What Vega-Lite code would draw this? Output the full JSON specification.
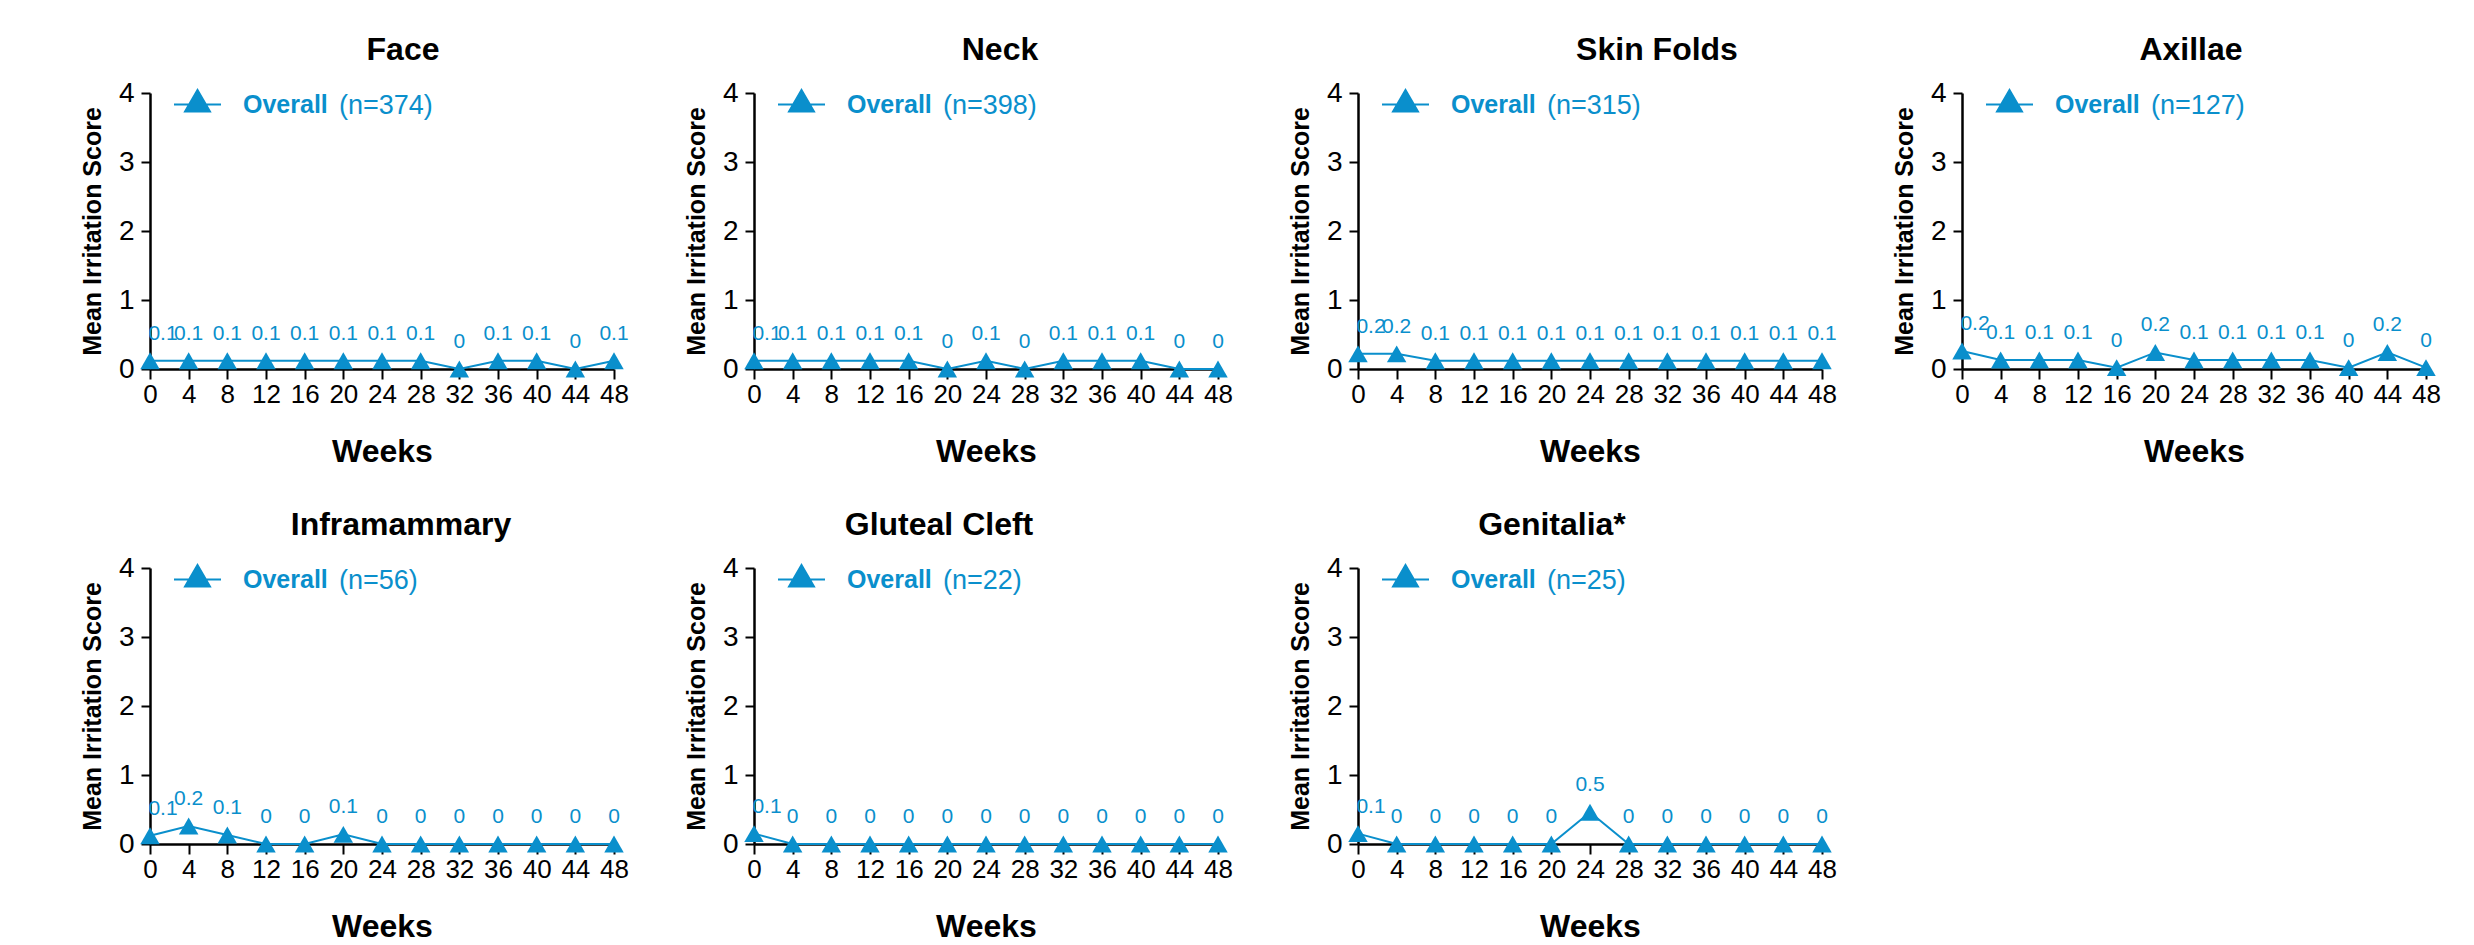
{
  "$schema": "https://vega.github.io/schema/vega-lite/v6.json",
  "background": "white",
  "padding": {"left": 80, "top": 34, "right": 10, "bottom": 0},
  "datasets": {
    "scores": [
      {"region":"Face","group":"Overall","week":0,"score":0.12,"label":"0.1"},
      {"region":"Face","group":"Overall","week":4,"score":0.12,"label":"0.1"},
      {"region":"Face","group":"Overall","week":8,"score":0.12,"label":"0.1"},
      {"region":"Face","group":"Overall","week":12,"score":0.12,"label":"0.1"},
      {"region":"Face","group":"Overall","week":16,"score":0.12,"label":"0.1"},
      {"region":"Face","group":"Overall","week":20,"score":0.12,"label":"0.1"},
      {"region":"Face","group":"Overall","week":24,"score":0.12,"label":"0.1"},
      {"region":"Face","group":"Overall","week":28,"score":0.12,"label":"0.1"},
      {"region":"Face","group":"Overall","week":32,"score":0.0,"label":"0"},
      {"region":"Face","group":"Overall","week":36,"score":0.12,"label":"0.1"},
      {"region":"Face","group":"Overall","week":40,"score":0.12,"label":"0.1"},
      {"region":"Face","group":"Overall","week":44,"score":0.0,"label":"0"},
      {"region":"Face","group":"Overall","week":48,"score":0.12,"label":"0.1"},

      {"region":"Neck","group":"Overall","week":0,"score":0.12,"label":"0.1"},
      {"region":"Neck","group":"Overall","week":4,"score":0.12,"label":"0.1"},
      {"region":"Neck","group":"Overall","week":8,"score":0.12,"label":"0.1"},
      {"region":"Neck","group":"Overall","week":12,"score":0.12,"label":"0.1"},
      {"region":"Neck","group":"Overall","week":16,"score":0.12,"label":"0.1"},
      {"region":"Neck","group":"Overall","week":20,"score":0.0,"label":"0"},
      {"region":"Neck","group":"Overall","week":24,"score":0.12,"label":"0.1"},
      {"region":"Neck","group":"Overall","week":28,"score":0.0,"label":"0"},
      {"region":"Neck","group":"Overall","week":32,"score":0.12,"label":"0.1"},
      {"region":"Neck","group":"Overall","week":36,"score":0.12,"label":"0.1"},
      {"region":"Neck","group":"Overall","week":40,"score":0.12,"label":"0.1"},
      {"region":"Neck","group":"Overall","week":44,"score":0.0,"label":"0"},
      {"region":"Neck","group":"Overall","week":48,"score":0.0,"label":"0"},

      {"region":"Skin Folds","group":"Overall","week":0,"score":0.22,"label":"0.2"},
      {"region":"Skin Folds","group":"Overall","week":4,"score":0.22,"label":"0.2"},
      {"region":"Skin Folds","group":"Overall","week":8,"score":0.12,"label":"0.1"},
      {"region":"Skin Folds","group":"Overall","week":12,"score":0.12,"label":"0.1"},
      {"region":"Skin Folds","group":"Overall","week":16,"score":0.12,"label":"0.1"},
      {"region":"Skin Folds","group":"Overall","week":20,"score":0.12,"label":"0.1"},
      {"region":"Skin Folds","group":"Overall","week":24,"score":0.12,"label":"0.1"},
      {"region":"Skin Folds","group":"Overall","week":28,"score":0.12,"label":"0.1"},
      {"region":"Skin Folds","group":"Overall","week":32,"score":0.12,"label":"0.1"},
      {"region":"Skin Folds","group":"Overall","week":36,"score":0.12,"label":"0.1"},
      {"region":"Skin Folds","group":"Overall","week":40,"score":0.12,"label":"0.1"},
      {"region":"Skin Folds","group":"Overall","week":44,"score":0.12,"label":"0.1"},
      {"region":"Skin Folds","group":"Overall","week":48,"score":0.12,"label":"0.1"},

      {"region":"Axillae","group":"Overall","week":0,"score":0.26,"label":"0.2"},
      {"region":"Axillae","group":"Overall","week":4,"score":0.13,"label":"0.1"},
      {"region":"Axillae","group":"Overall","week":8,"score":0.13,"label":"0.1"},
      {"region":"Axillae","group":"Overall","week":12,"score":0.13,"label":"0.1"},
      {"region":"Axillae","group":"Overall","week":16,"score":0.02,"label":"0"},
      {"region":"Axillae","group":"Overall","week":20,"score":0.24,"label":"0.2"},
      {"region":"Axillae","group":"Overall","week":24,"score":0.13,"label":"0.1"},
      {"region":"Axillae","group":"Overall","week":28,"score":0.13,"label":"0.1"},
      {"region":"Axillae","group":"Overall","week":32,"score":0.13,"label":"0.1"},
      {"region":"Axillae","group":"Overall","week":36,"score":0.13,"label":"0.1"},
      {"region":"Axillae","group":"Overall","week":40,"score":0.02,"label":"0"},
      {"region":"Axillae","group":"Overall","week":44,"score":0.24,"label":"0.2"},
      {"region":"Axillae","group":"Overall","week":48,"score":0.02,"label":"0"},

      {"region":"Inframammary","group":"Overall","week":0,"score":0.12,"label":"0.1"},
      {"region":"Inframammary","group":"Overall","week":4,"score":0.26,"label":"0.2"},
      {"region":"Inframammary","group":"Overall","week":8,"score":0.13,"label":"0.1"},
      {"region":"Inframammary","group":"Overall","week":12,"score":0.0,"label":"0"},
      {"region":"Inframammary","group":"Overall","week":16,"score":0.0,"label":"0"},
      {"region":"Inframammary","group":"Overall","week":20,"score":0.14,"label":"0.1"},
      {"region":"Inframammary","group":"Overall","week":24,"score":0.0,"label":"0"},
      {"region":"Inframammary","group":"Overall","week":28,"score":0.0,"label":"0"},
      {"region":"Inframammary","group":"Overall","week":32,"score":0.0,"label":"0"},
      {"region":"Inframammary","group":"Overall","week":36,"score":0.0,"label":"0"},
      {"region":"Inframammary","group":"Overall","week":40,"score":0.0,"label":"0"},
      {"region":"Inframammary","group":"Overall","week":44,"score":0.0,"label":"0"},
      {"region":"Inframammary","group":"Overall","week":48,"score":0.0,"label":"0"},

      {"region":"Gluteal Cleft","group":"Overall","week":0,"score":0.15,"label":"0.1"},
      {"region":"Gluteal Cleft","group":"Overall","week":4,"score":0.0,"label":"0"},
      {"region":"Gluteal Cleft","group":"Overall","week":8,"score":0.0,"label":"0"},
      {"region":"Gluteal Cleft","group":"Overall","week":12,"score":0.0,"label":"0"},
      {"region":"Gluteal Cleft","group":"Overall","week":16,"score":0.0,"label":"0"},
      {"region":"Gluteal Cleft","group":"Overall","week":20,"score":0.0,"label":"0"},
      {"region":"Gluteal Cleft","group":"Overall","week":24,"score":0.0,"label":"0"},
      {"region":"Gluteal Cleft","group":"Overall","week":28,"score":0.0,"label":"0"},
      {"region":"Gluteal Cleft","group":"Overall","week":32,"score":0.0,"label":"0"},
      {"region":"Gluteal Cleft","group":"Overall","week":36,"score":0.0,"label":"0"},
      {"region":"Gluteal Cleft","group":"Overall","week":40,"score":0.0,"label":"0"},
      {"region":"Gluteal Cleft","group":"Overall","week":44,"score":0.0,"label":"0"},
      {"region":"Gluteal Cleft","group":"Overall","week":48,"score":0.0,"label":"0"},

      {"region":"Genitalia*","group":"Overall","week":0,"score":0.15,"label":"0.1"},
      {"region":"Genitalia*","group":"Overall","week":4,"score":0.0,"label":"0"},
      {"region":"Genitalia*","group":"Overall","week":8,"score":0.0,"label":"0"},
      {"region":"Genitalia*","group":"Overall","week":12,"score":0.0,"label":"0"},
      {"region":"Genitalia*","group":"Overall","week":16,"score":0.0,"label":"0"},
      {"region":"Genitalia*","group":"Overall","week":20,"score":0.0,"label":"0"},
      {"region":"Genitalia*","group":"Overall","week":24,"score":0.46,"label":"0.5"},
      {"region":"Genitalia*","group":"Overall","week":28,"score":0.0,"label":"0"},
      {"region":"Genitalia*","group":"Overall","week":32,"score":0.0,"label":"0"},
      {"region":"Genitalia*","group":"Overall","week":36,"score":0.0,"label":"0"},
      {"region":"Genitalia*","group":"Overall","week":40,"score":0.0,"label":"0"},
      {"region":"Genitalia*","group":"Overall","week":44,"score":0.0,"label":"0"},
      {"region":"Genitalia*","group":"Overall","week":48,"score":0.0,"label":"0"}
    ]
  },
  "data": {"name": "scores"},
  "columns": 4,
  "spacing": {"row": 42, "column": 55},
  "resolve": {"scale": {"color": "independent"}, "legend": {"color": "independent"}},
  "concat": [
    {
      "title": {"text": "Face", "dx": 21}, "width": 464, "height": 276,
      "transform": [{"filter": "datum.region === 'Face'"}],
      "encoding": {
        "x": {"field": "week", "type": "quantitative", "scale": {"domain": [0, 48], "nice": false}, "axis": {"values": [0,4,8,12,16,20,24,28,32,36,40,44,48], "title": "Weeks"}},
        "y": {"field": "score", "type": "quantitative", "scale": {"domain": [0, 4]}, "axis": {"values": [0,1,2,3,4], "title": "Mean Irritation Score"}}
      },
      "layer": [
        {"mark": {"type": "line", "color": "#0a8fcc", "strokeWidth": 2}, "encoding": {}},
        {"mark": {"type": "point", "shape": "triangle-up", "filled": true, "size": 380, "opacity": 1},
         "encoding": {"color": {"field": "group", "type": "nominal", "scale": {"range": ["#0a8fcc"]}, "legend": {"title": "(n=374)", "symbolType": "M-1,0L1,0M0,-0.62L0.53,0.3L-0.53,0.3Z", "symbolSize": 2209, "symbolStrokeColor": "#0a8fcc", "symbolFillColor": "#0a8fcc", "symbolStrokeWidth": 2, "encode": {"symbols": {"shape": {"value": "M-1,0L1,0M0,-0.62L0.53,0.3L-0.53,0.3Z"}, "size": {"value": 2209}, "stroke": {"value": "#0a8fcc"}, "strokeWidth": {"value": 2}, "fill": {"value": "#0a8fcc"}, "opacity": {"value": 1}}}}}}},
        {"transform": [{"filter": "datum.week > 0"}], "mark": {"type": "text", "dy": -27, "fontSize": 21, "color": "#0a8fcc"}, "encoding": {"text": {"field": "label"}}},
        {"transform": [{"filter": "datum.week === 0"}], "mark": {"type": "text", "dy": -27, "dx": 13, "fontSize": 21, "color": "#0a8fcc"}, "encoding": {"text": {"field": "label"}}}
      ]
    },
    {
      "title": {"text": "Neck", "dx": 14}, "width": 464, "height": 276,
      "transform": [{"filter": "datum.region === 'Neck'"}],
      "encoding": {
        "x": {"field": "week", "type": "quantitative", "scale": {"domain": [0, 48], "nice": false}, "axis": {"values": [0,4,8,12,16,20,24,28,32,36,40,44,48], "title": "Weeks"}},
        "y": {"field": "score", "type": "quantitative", "scale": {"domain": [0, 4]}, "axis": {"values": [0,1,2,3,4], "title": "Mean Irritation Score"}}
      },
      "layer": [
        {"mark": {"type": "line", "color": "#0a8fcc", "strokeWidth": 2}, "encoding": {}},
        {"mark": {"type": "point", "shape": "triangle-up", "filled": true, "size": 380, "opacity": 1},
         "encoding": {"color": {"field": "group", "type": "nominal", "scale": {"range": ["#0a8fcc"]}, "legend": {"title": "(n=398)", "symbolType": "M-1,0L1,0M0,-0.62L0.53,0.3L-0.53,0.3Z", "symbolSize": 2209, "symbolStrokeColor": "#0a8fcc", "symbolFillColor": "#0a8fcc", "symbolStrokeWidth": 2, "encode": {"symbols": {"shape": {"value": "M-1,0L1,0M0,-0.62L0.53,0.3L-0.53,0.3Z"}, "size": {"value": 2209}, "stroke": {"value": "#0a8fcc"}, "strokeWidth": {"value": 2}, "fill": {"value": "#0a8fcc"}, "opacity": {"value": 1}}}}}}},
        {"transform": [{"filter": "datum.week > 0"}], "mark": {"type": "text", "dy": -27, "fontSize": 21, "color": "#0a8fcc"}, "encoding": {"text": {"field": "label"}}},
        {"transform": [{"filter": "datum.week === 0"}], "mark": {"type": "text", "dy": -27, "dx": 13, "fontSize": 21, "color": "#0a8fcc"}, "encoding": {"text": {"field": "label"}}}
      ]
    },
    {
      "title": {"text": "Skin Folds", "dx": 67}, "width": 464, "height": 276,
      "transform": [{"filter": "datum.region === 'Skin Folds'"}],
      "encoding": {
        "x": {"field": "week", "type": "quantitative", "scale": {"domain": [0, 48], "nice": false}, "axis": {"values": [0,4,8,12,16,20,24,28,32,36,40,44,48], "title": "Weeks"}},
        "y": {"field": "score", "type": "quantitative", "scale": {"domain": [0, 4]}, "axis": {"values": [0,1,2,3,4], "title": "Mean Irritation Score"}}
      },
      "layer": [
        {"mark": {"type": "line", "color": "#0a8fcc", "strokeWidth": 2}, "encoding": {}},
        {"mark": {"type": "point", "shape": "triangle-up", "filled": true, "size": 380, "opacity": 1},
         "encoding": {"color": {"field": "group", "type": "nominal", "scale": {"range": ["#0a8fcc"]}, "legend": {"title": "(n=315)", "symbolType": "M-1,0L1,0M0,-0.62L0.53,0.3L-0.53,0.3Z", "symbolSize": 2209, "symbolStrokeColor": "#0a8fcc", "symbolFillColor": "#0a8fcc", "symbolStrokeWidth": 2, "encode": {"symbols": {"shape": {"value": "M-1,0L1,0M0,-0.62L0.53,0.3L-0.53,0.3Z"}, "size": {"value": 2209}, "stroke": {"value": "#0a8fcc"}, "strokeWidth": {"value": 2}, "fill": {"value": "#0a8fcc"}, "opacity": {"value": 1}}}}}}},
        {"transform": [{"filter": "datum.week > 0"}], "mark": {"type": "text", "dy": -27, "fontSize": 21, "color": "#0a8fcc"}, "encoding": {"text": {"field": "label"}}},
        {"transform": [{"filter": "datum.week === 0"}], "mark": {"type": "text", "dy": -27, "dx": 13, "fontSize": 21, "color": "#0a8fcc"}, "encoding": {"text": {"field": "label"}}}
      ]
    },
    {
      "title": {"text": "Axillae", "dx": -3}, "width": 464, "height": 276,
      "transform": [{"filter": "datum.region === 'Axillae'"}],
      "encoding": {
        "x": {"field": "week", "type": "quantitative", "scale": {"domain": [0, 48], "nice": false}, "axis": {"values": [0,4,8,12,16,20,24,28,32,36,40,44,48], "title": "Weeks"}},
        "y": {"field": "score", "type": "quantitative", "scale": {"domain": [0, 4]}, "axis": {"values": [0,1,2,3,4], "title": "Mean Irritation Score"}}
      },
      "layer": [
        {"mark": {"type": "line", "color": "#0a8fcc", "strokeWidth": 2}, "encoding": {}},
        {"mark": {"type": "point", "shape": "triangle-up", "filled": true, "size": 380, "opacity": 1},
         "encoding": {"color": {"field": "group", "type": "nominal", "scale": {"range": ["#0a8fcc"]}, "legend": {"title": "(n=127)", "symbolType": "M-1,0L1,0M0,-0.62L0.53,0.3L-0.53,0.3Z", "symbolSize": 2209, "symbolStrokeColor": "#0a8fcc", "symbolFillColor": "#0a8fcc", "symbolStrokeWidth": 2, "encode": {"symbols": {"shape": {"value": "M-1,0L1,0M0,-0.62L0.53,0.3L-0.53,0.3Z"}, "size": {"value": 2209}, "stroke": {"value": "#0a8fcc"}, "strokeWidth": {"value": 2}, "fill": {"value": "#0a8fcc"}, "opacity": {"value": 1}}}}}}},
        {"transform": [{"filter": "datum.week > 0"}], "mark": {"type": "text", "dy": -27, "fontSize": 21, "color": "#0a8fcc"}, "encoding": {"text": {"field": "label"}}},
        {"transform": [{"filter": "datum.week === 0"}], "mark": {"type": "text", "dy": -27, "dx": 13, "fontSize": 21, "color": "#0a8fcc"}, "encoding": {"text": {"field": "label"}}}
      ]
    },
    {
      "title": {"text": "Inframammary", "dx": 19}, "width": 464, "height": 276,
      "transform": [{"filter": "datum.region === 'Inframammary'"}],
      "encoding": {
        "x": {"field": "week", "type": "quantitative", "scale": {"domain": [0, 48], "nice": false}, "axis": {"values": [0,4,8,12,16,20,24,28,32,36,40,44,48], "title": "Weeks"}},
        "y": {"field": "score", "type": "quantitative", "scale": {"domain": [0, 4]}, "axis": {"values": [0,1,2,3,4], "title": "Mean Irritation Score"}}
      },
      "layer": [
        {"mark": {"type": "line", "color": "#0a8fcc", "strokeWidth": 2}, "encoding": {}},
        {"mark": {"type": "point", "shape": "triangle-up", "filled": true, "size": 380, "opacity": 1},
         "encoding": {"color": {"field": "group", "type": "nominal", "scale": {"range": ["#0a8fcc"]}, "legend": {"title": "(n=56)", "symbolType": "M-1,0L1,0M0,-0.62L0.53,0.3L-0.53,0.3Z", "symbolSize": 2209, "symbolStrokeColor": "#0a8fcc", "symbolFillColor": "#0a8fcc", "symbolStrokeWidth": 2, "encode": {"symbols": {"shape": {"value": "M-1,0L1,0M0,-0.62L0.53,0.3L-0.53,0.3Z"}, "size": {"value": 2209}, "stroke": {"value": "#0a8fcc"}, "strokeWidth": {"value": 2}, "fill": {"value": "#0a8fcc"}, "opacity": {"value": 1}}}}}}},
        {"transform": [{"filter": "datum.week > 0"}], "mark": {"type": "text", "dy": -27, "fontSize": 21, "color": "#0a8fcc"}, "encoding": {"text": {"field": "label"}}},
        {"transform": [{"filter": "datum.week === 0"}], "mark": {"type": "text", "dy": -27, "dx": 13, "fontSize": 21, "color": "#0a8fcc"}, "encoding": {"text": {"field": "label"}}}
      ]
    },
    {
      "title": {"text": "Gluteal Cleft", "dx": -47}, "width": 464, "height": 276,
      "transform": [{"filter": "datum.region === 'Gluteal Cleft'"}],
      "encoding": {
        "x": {"field": "week", "type": "quantitative", "scale": {"domain": [0, 48], "nice": false}, "axis": {"values": [0,4,8,12,16,20,24,28,32,36,40,44,48], "title": "Weeks"}},
        "y": {"field": "score", "type": "quantitative", "scale": {"domain": [0, 4]}, "axis": {"values": [0,1,2,3,4], "title": "Mean Irritation Score"}}
      },
      "layer": [
        {"mark": {"type": "line", "color": "#0a8fcc", "strokeWidth": 2}, "encoding": {}},
        {"mark": {"type": "point", "shape": "triangle-up", "filled": true, "size": 380, "opacity": 1},
         "encoding": {"color": {"field": "group", "type": "nominal", "scale": {"range": ["#0a8fcc"]}, "legend": {"title": "(n=22)", "symbolType": "M-1,0L1,0M0,-0.62L0.53,0.3L-0.53,0.3Z", "symbolSize": 2209, "symbolStrokeColor": "#0a8fcc", "symbolFillColor": "#0a8fcc", "symbolStrokeWidth": 2, "encode": {"symbols": {"shape": {"value": "M-1,0L1,0M0,-0.62L0.53,0.3L-0.53,0.3Z"}, "size": {"value": 2209}, "stroke": {"value": "#0a8fcc"}, "strokeWidth": {"value": 2}, "fill": {"value": "#0a8fcc"}, "opacity": {"value": 1}}}}}}},
        {"transform": [{"filter": "datum.week > 0"}], "mark": {"type": "text", "dy": -27, "fontSize": 21, "color": "#0a8fcc"}, "encoding": {"text": {"field": "label"}}},
        {"transform": [{"filter": "datum.week === 0"}], "mark": {"type": "text", "dy": -27, "dx": 13, "fontSize": 21, "color": "#0a8fcc"}, "encoding": {"text": {"field": "label"}}}
      ]
    },
    {
      "title": {"text": "Genitalia*", "dx": -38}, "width": 464, "height": 276,
      "transform": [{"filter": "datum.region === 'Genitalia*'"}],
      "encoding": {
        "x": {"field": "week", "type": "quantitative", "scale": {"domain": [0, 48], "nice": false}, "axis": {"values": [0,4,8,12,16,20,24,28,32,36,40,44,48], "title": "Weeks"}},
        "y": {"field": "score", "type": "quantitative", "scale": {"domain": [0, 4]}, "axis": {"values": [0,1,2,3,4], "title": "Mean Irritation Score"}}
      },
      "layer": [
        {"mark": {"type": "line", "color": "#0a8fcc", "strokeWidth": 2}, "encoding": {}},
        {"mark": {"type": "point", "shape": "triangle-up", "filled": true, "size": 380, "opacity": 1},
         "encoding": {"color": {"field": "group", "type": "nominal", "scale": {"range": ["#0a8fcc"]}, "legend": {"title": "(n=25)", "symbolType": "M-1,0L1,0M0,-0.62L0.53,0.3L-0.53,0.3Z", "symbolSize": 2209, "symbolStrokeColor": "#0a8fcc", "symbolFillColor": "#0a8fcc", "symbolStrokeWidth": 2, "encode": {"symbols": {"shape": {"value": "M-1,0L1,0M0,-0.62L0.53,0.3L-0.53,0.3Z"}, "size": {"value": 2209}, "stroke": {"value": "#0a8fcc"}, "strokeWidth": {"value": 2}, "fill": {"value": "#0a8fcc"}, "opacity": {"value": 1}}}}}}},
        {"transform": [{"filter": "datum.week > 0"}], "mark": {"type": "text", "dy": -27, "fontSize": 21, "color": "#0a8fcc"}, "encoding": {"text": {"field": "label"}}},
        {"transform": [{"filter": "datum.week === 0"}], "mark": {"type": "text", "dy": -27, "dx": 13, "fontSize": 21, "color": "#0a8fcc"}, "encoding": {"text": {"field": "label"}}}
      ]
    }
  ],
  "config": {
    "font": "Liberation Sans Narrow, Liberation Sans, Arial, sans-serif",
    "view": {"stroke": null},
    "text": {"font": "Liberation Sans Narrow, Liberation Sans, sans-serif"},
    "title": {"font": "Liberation Sans Narrow, Liberation Sans, sans-serif", "fontSize": 32, "fontWeight": "bold", "color": "#000000", "anchor": "middle", "offset": 12},
    "axis": {"grid": false, "domainColor": "#000000", "domainWidth": 2.5, "tickColor": "#000000", "tickWidth": 2, "labelFont": "Liberation Sans Narrow, Liberation Sans, sans-serif", "labelFontSize": 26, "labelColor": "#000000", "labelOverlap": false, "labelFlush": false, "titleFont": "Liberation Sans, Arial, sans-serif", "titleFontWeight": "bold", "titleColor": "#000000"},
    "axisX": {"tickSize": 10, "labelPadding": 2, "titlePadding": 29, "titleFontSize": 32, "labelAngle": 0},
    "axisY": {"tickSize": 9, "labelPadding": 7, "labelFontSize": 28, "titlePadding": 13, "titleFontSize": 25},
    "legend": {
      "orient": "none", "legendX": 23, "legendY": -13,
      "labelFont": "Liberation Sans Narrow, Liberation Sans, sans-serif", "labelFontSize": 25, "labelFontWeight": "bold", "labelColor": "#0a8fcc", "labelOffset": 21,
      "titleOrient": "right", "titleAnchor": "middle", "titleFont": "Liberation Sans Narrow, Liberation Sans, sans-serif", "titleFontSize": 27, "titleFontWeight": "normal", "titleColor": "#0a8fcc", "titlePadding": 11, "titleBaseline": "line-top", "titleLineHeight": 14
    }
  }
}
